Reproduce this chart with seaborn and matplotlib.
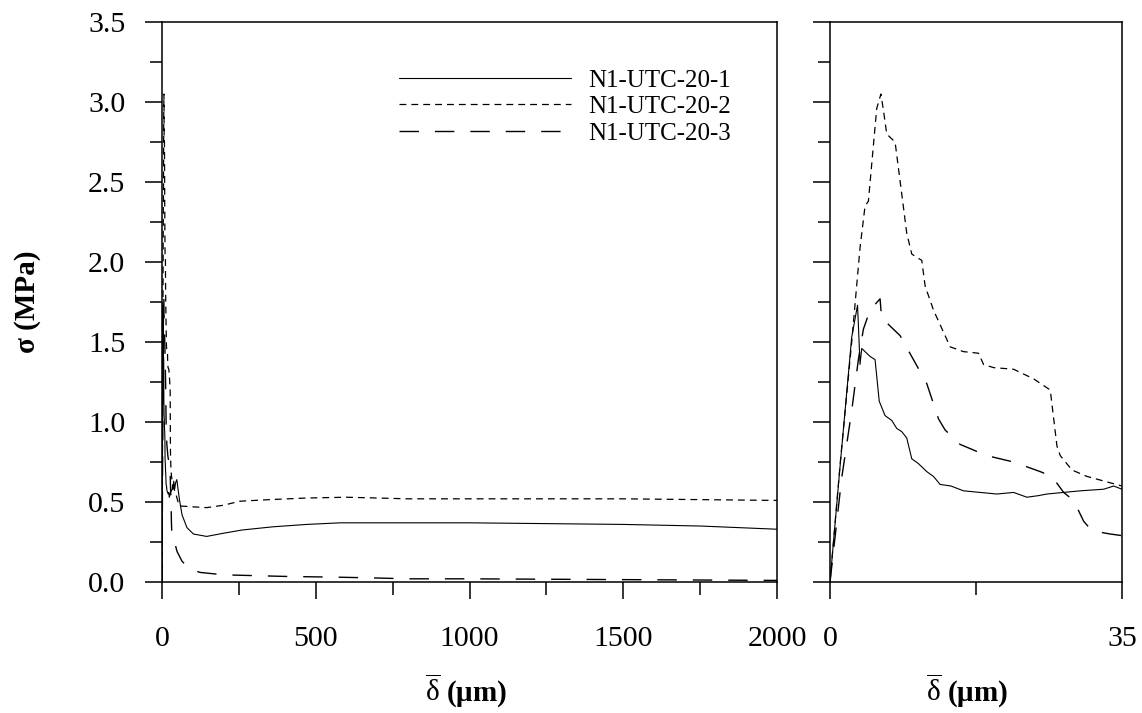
import matplotlib
matplotlib.use("Agg")
import matplotlib.pyplot as plt
from matplotlib.ticker import MultipleLocator, FixedLocator
import seaborn as sns

# stress-displacement curves (delta in um, sigma in MPa)
specimens = ["N1-UTC-20-1", "N1-UTC-20-2", "N1-UTC-20-3"]

s1_x = [0, 1.2, 2.6, 3.3, 3.6, 3.8, 4.8, 5.4, 5.9, 6.6, 7.4, 8.0, 8.6, 9.2, 9.8, 10.6, 11.6, 12.4,
        13.2, 14.5, 16, 18, 20, 22, 23.6, 25, 26, 28, 30, 32.8, 34, 35,
        38, 41, 44, 48, 52, 57, 65, 81, 102, 145, 200, 260, 360, 470, 580, 770,
        1000, 1250, 1500, 1750, 2000]
s1_y = [0, 0.72, 1.53, 1.73, 1.36, 1.46, 1.41, 1.39, 1.13, 1.04, 1.01, 0.96, 0.94, 0.90, 0.77, 0.74, 0.69, 0.66,
        0.61, 0.60, 0.57, 0.56, 0.55, 0.56, 0.53, 0.54, 0.55, 0.56, 0.57, 0.58, 0.60, 0.58,
        0.63, 0.58, 0.62, 0.64, 0.58, 0.51, 0.42, 0.34, 0.30, 0.285, 0.305, 0.325, 0.345, 0.36, 0.37, 0.37,
        0.37, 0.365, 0.36, 0.35, 0.33]

s2_x = [0, 1.2, 2.6, 3.6, 4.2, 4.6, 5.6, 6.1, 6.4, 6.8, 7.8, 9.2, 9.8, 11, 11.4, 12.4, 14.4, 16,
        17.8, 18.4, 19.6, 22, 24.4, 26.4, 27.2, 27.6, 29, 30.8, 35,
        45, 55, 60, 100, 145, 200, 253, 350, 470, 600, 800, 1000, 1500, 2000]
s2_y = [0, 0.73, 1.5, 2.09, 2.35, 2.38, 2.96, 3.05, 2.95, 2.80, 2.75, 2.18, 2.05, 2.01, 1.85, 1.70, 1.47, 1.44,
        1.43, 1.36, 1.34, 1.33, 1.27, 1.20, 0.85, 0.79, 0.70, 0.66, 0.60,
        0.55, 0.48, 0.475, 0.47, 0.465, 0.48, 0.505, 0.515, 0.525, 0.53, 0.52, 0.52, 0.52, 0.51]

s3_x = [0, 1.4, 2.6, 3.4, 4.0, 4.8, 6.0, 6.2, 6.6, 8.4, 10, 11.6, 13, 13.8, 15.6, 18.8, 22, 25.2,
        26.6, 28, 29.2, 30.4, 31.4, 33.6, 35,
        36, 38, 42, 49, 57, 65, 80, 92, 124, 200, 300, 400, 577, 700, 800, 1000, 1500, 2000]
s3_y = [0, 0.65, 1.07, 1.39, 1.58, 1.70, 1.77, 1.64, 1.63, 1.54, 1.39, 1.24, 1.02, 0.95, 0.86, 0.79, 0.75, 0.69,
        0.66, 0.56, 0.51, 0.38, 0.32, 0.30, 0.29,
        0.27, 0.256, 0.24, 0.19, 0.16, 0.13, 0.10, 0.08, 0.06, 0.045, 0.04, 0.035, 0.03, 0.025, 0.02, 0.02, 0.015, 0.01]

series = [(s1_x, s1_y), (s2_x, s2_y), (s3_x, s3_y)]
line_styles = ["-", (0, (5.5, 4)), (0, (14, 11.5))]
line_widths = [0.8, 0.9, 1.0]

sns.set_style("ticks", rc={"axes.edgecolor": "black", "xtick.color": "black",
                           "ytick.color": "black", "text.color": "black",
                           "axes.labelcolor": "black"})
plt.rcParams["font.family"] = ["Liberation Serif", "DejaVu Serif"]
plt.rcParams["mathtext.fontset"] = "custom"
plt.rcParams["mathtext.rm"] = "Liberation Serif"
plt.rcParams["mathtext.bf"] = "Liberation Serif:bold"

fig = plt.figure(figsize=(11.42, 7.13), dpi=100)
ax1 = fig.add_axes([0.1419, 0.1837, 0.5385, 0.7854])
ax2 = fig.add_axes([0.7268, 0.1837, 0.2557, 0.7854])

for ax, show_legend in [(ax1, True), (ax2, False)]:
    for name, (xs, ys), ls, lw in zip(specimens, series, line_styles, line_widths):
        sns.lineplot(x=xs, y=ys, ax=ax, color="black", linestyle=ls, linewidth=lw,
                     sort=False, estimator=None, label=name if show_legend else None,
                     legend=False)
    ax.set_ylim(0, 3.5)
    ax.yaxis.set_major_locator(MultipleLocator(0.5))
    ax.yaxis.set_minor_locator(MultipleLocator(0.25))
    for s in ax.spines.values():
        s.set_linewidth(1.1)
        s.set_visible(True)
    ax.tick_params(which="major", direction="out", length=12.5, width=1.1, labelsize=21.5)
    ax.tick_params(which="minor", direction="out", length=9, width=1.1)
    ax.tick_params(axis="x", pad=19)
    ax.tick_params(axis="y", pad=14)
    ax.set_xlabel(r"$\overline{\mathrm{\delta}}$ (μm)", fontsize=21, fontweight="bold")

ax1.set_xlim(0, 2000)
ax1.xaxis.set_major_locator(MultipleLocator(500))
ax1.xaxis.set_minor_locator(MultipleLocator(250))
ax1.yaxis.set_major_formatter(plt.FormatStrFormatter("%.1f"))
ax1.set_ylabel("σ (MPa)", fontsize=21, fontweight="bold")
ax1.yaxis.set_label_coords(-0.197, 0.5)
ax1.xaxis.set_label_coords(0.494, -0.16)

ax2.set_xlim(0, 35)
ax2.xaxis.set_major_locator(FixedLocator([0, 35]))
ax2.xaxis.set_minor_locator(FixedLocator([17.5]))
ax2.tick_params(axis="y", labelleft=False)
ax2.xaxis.set_label_coords(0.47, -0.16)

ax1.legend(loc="upper left", bbox_to_anchor=(0.385, 0.916), frameon=False, fontsize=18,
           handlelength=6.9, handletextpad=0.68, labelspacing=0.16,
           borderpad=0, borderaxespad=0)

fig.savefig("out.png", dpi=100)
